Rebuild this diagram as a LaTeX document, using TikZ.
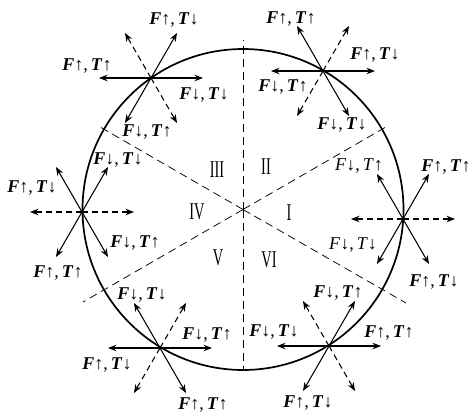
\documentclass[tikz,border=0pt]{standalone}
\usepackage{fontspec}
\setmainfont{Liberation Serif}
\usetikzlibrary{calc,arrows.meta}
\newcommand\lblfont{\fontsize{18}{18}\selectfont}
\newcommand\FT[2]{\textbf{\textit{F}}#1,\,\textbf{\textit{T}}#2}
\newcommand\FTr[2]{\textit{F}#1,\,\textit{T}#2}
\newcommand\UA{↑}
\newcommand\DA{↓}
\newcommand\rom[1]{\scalebox{0.6}[1]{#1}}
\newcommand\mystar[5]{%
  \coordinate (#1) at #2;
  \coordinate (#1e) at ($(#1)+(52,0)$);
  \coordinate (#1w) at ($(#1)+(-52,0)$);
  \coordinate (#1ne) at ($(#1)+(26,-45)$);
  \coordinate (#1sw) at ($(#1)+(-26,45)$);
  \coordinate (#1nw) at ($(#1)+(-26,-45)$);
  \coordinate (#1se) at ($(#1)+(26,45)$);
  \draw[#3] (#1) -- (#1e);
  \draw[#3] (#1) -- (#1w);
  \draw[#4] (#1) -- (#1ne);
  \draw[#4] (#1) -- (#1sw);
  \draw[#5] (#1) -- (#1nw);
  \draw[#5] (#1) -- (#1se);
}
\begin{document}
\begin{tikzpicture}[x=1pt,y=-1pt,
  arr/.style={-{Stealth[length=8.5pt,width=6.5pt]}, line width=1.05pt},
  darr/.style={arr, dash pattern=on 6pt off 4pt},
  guide/.style={line width=0.75pt, dash pattern=on 8pt off 5pt},
  lbl/.style={font=\lblfont, inner sep=0pt},
  roman/.style={font=\fontsize{24}{24}\selectfont, inner sep=0pt}]
\useasboundingbox (0,0) rectangle (476,415);
\coordinate (O) at (243,209.5);
% guide lines
\coordinate (Vt) at (243,40);
\coordinate (Vb) at (243,370);
\coordinate (G1) at (388.5,125.5);
\coordinate (G2) at (97.5,125.5);
\coordinate (G3) at (83,302);
\coordinate (G4) at (406,303);
\draw[guide] (O) -- (Vt);
\draw[guide] (O) -- (Vb);
\draw[guide] (O) -- (G1);
\draw[guide] (O) -- (G2);
\draw[guide] (O) -- (G3);
\draw[guide] (O) -- (G4);
% circle
\draw[line width=1.7pt] (O) circle[radius=160.5];
% stars
\mystar{TL}{(151,78)}{arr}{arr}{darr}
\mystar{TR}{(323,71)}{arr}{darr}{arr}
\mystar{L}{(82,212)}{darr}{arr}{arr}
\mystar{R}{(403,219)}{darr}{arr}{arr}
\mystar{BL}{(160,348)}{arr}{darr}{arr}
\mystar{BR}{(329,346)}{arr}{arr}{darr}
% labels TL
\node[lbl] (tl1) at (174,20) {\FT\UA\DA};
\node[lbl] (tl2) at (87,66) {\FT\UA\UA};
\node[lbl] (tl3) at (204,95) {\FT\DA\DA};
\node[lbl] (tl4) at (147,132) {\FT\DA\UA};
% labels TR
\node[lbl] (tr1) at (291,19) {\FT\UA\UA};
\node[lbl] (tr2) at (375,55) {\FT\UA\DA};
\node[lbl] (tr3) at (283,87) {\FT\DA\UA};
\node[lbl] (tr4) at (342,125) {\FT\DA\DA};
% labels L
\node[lbl] (l1) at (32,188) {\FT\UA\DA};
\node[lbl] (l2) at (118,160) {\FT\DA\DA};
\node[lbl] (l3) at (135,243) {\FT\DA\UA};
\node[lbl] (l4) at (58,273) {\FT\UA\UA};
% labels R
\node[lbl] (r1) at (359,166) {\FTr\DA\UA};
\node[lbl] (r2) at (446,167) {\FT\UA\UA};
\node[lbl] (r3) at (353,245) {\FTr\DA\DA};
\node[lbl] (r4) at (434,282) {\FT\UA\DA};
% labels BL
\node[lbl] (bl1) at (142,295) {\FT\DA\DA};
\node[lbl] (bl2) at (207,335) {\FT\DA\UA};
\node[lbl] (bl3) at (107,365) {\FT\UA\DA};
\node[lbl] (bl4) at (203,405) {\FT\UA\UA};
% labels BR
\node[lbl] (br1) at (338,293) {\FT\DA\UA};
\node[lbl] (br2) at (274,332) {\FT\DA\DA};
\node[lbl] (br3) at (389,333) {\FT\UA\UA};
\node[lbl] (br4) at (308,403) {\FT\UA\DA};
% roman numerals
\node[roman] (n1) at (289,213) {\rom{I}};
\node[roman] (n2) at (266,167) {\rom{II}};
\node[roman] (n3) at (217,170) {\rom{III}};
\node[roman] (n4) at (197,212) {\rom{IV}};
\node[roman] (n5) at (218,258) {\rom{V}};
\node[roman] (n6) at (269,260) {\rom{VI}};
\end{tikzpicture}
\end{document}
